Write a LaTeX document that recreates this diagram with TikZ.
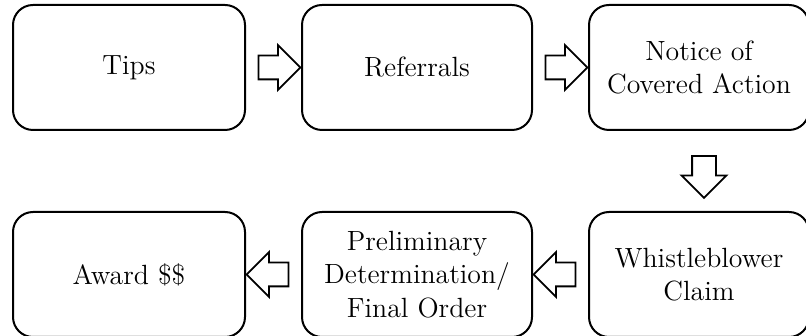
\documentclass[tikz,border=0pt]{standalone}
\usetikzlibrary{positioning,shapes.arrows,calc}

\begin{document}
\begin{tikzpicture}[x=1pt, y=1pt, node distance=40pt and 27.5pt,
    stage/.style = {shape=rectangle, rounded corners=10pt, draw, line width=1pt, align=center,
                    minimum height=62.5pt, inner sep=2pt, font=\fontsize{13.9}{16.8}\selectfont},
    flow/.style = {single arrow, draw, line width=0.9pt, fill=white, inner sep=5.5pt,
                   minimum width=21.5pt, minimum height=21pt, single arrow head extend=5.25pt}]
    \useasboundingbox (0,0) rectangle (403,168);
    \node[stage, minimum width=116pt] (tips) at (64.5,134.25) {Tips};
    \node[stage, minimum width=115pt, right=of tips] (referrals) {Referrals};
    \node[stage, minimum width=110pt, right=of referrals] (notice) {Notice of\\Covered Action};
    \node[stage, minimum width=110pt, below=of notice] (claim) {Whistleblower\\Claim};
    \node[stage, minimum width=115pt, left=of claim] (order) {Preliminary\\Determination/\\Final Order};
    \node[stage, minimum width=116pt, left=of order] (award) {Award \$\$};
    \node[flow] (t2r) at ($(tips.east)!0.5!(referrals.west)$) {};
    \node[flow] (r2n) at ($(referrals.east)!0.5!(notice.west)$) {};
    \node[flow, shape border rotate=270] (n2c) at ($(notice.south)!0.5!(claim.north) + (2.5,0)$) {};
    \node[flow, shape border rotate=180] (c2o) at ($(claim.west)!0.5!(order.east)$) {};
    \node[flow, shape border rotate=180] (o2a) at ($(order.west)!0.5!(award.east)$) {};
\end{tikzpicture}
\end{document}
